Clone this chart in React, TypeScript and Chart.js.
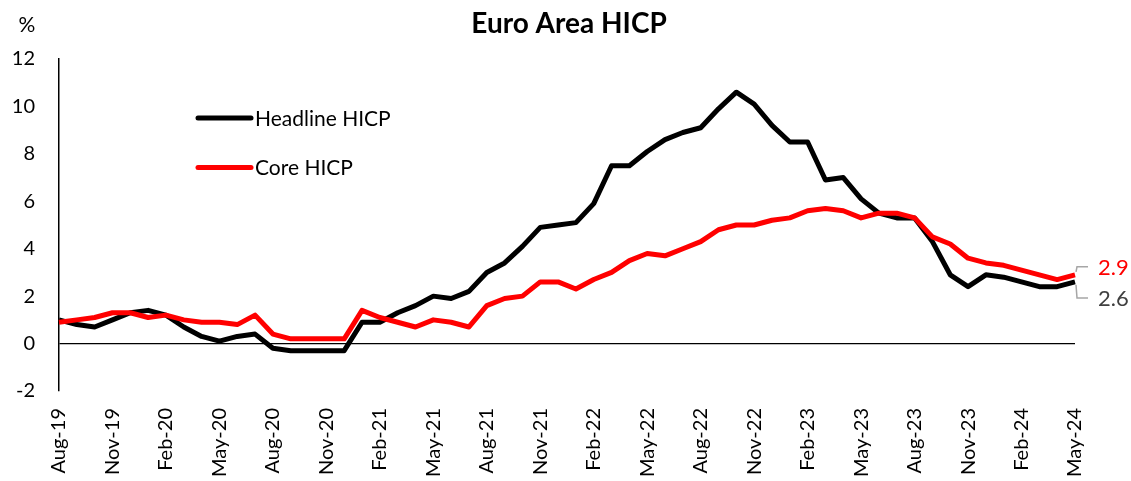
import React, { useEffect, useRef } from "react";
import { Chart, registerables } from "chart.js";

Chart.register(...registerables);

const chartTitle = "Euro Area HICP";
const unitLabel = "%";

const months = [
  "Aug-19", "Sep-19", "Oct-19", "Nov-19", "Dec-19",
  "Jan-20", "Feb-20", "Mar-20", "Apr-20", "May-20", "Jun-20", "Jul-20", "Aug-20", "Sep-20", "Oct-20", "Nov-20", "Dec-20",
  "Jan-21", "Feb-21", "Mar-21", "Apr-21", "May-21", "Jun-21", "Jul-21", "Aug-21", "Sep-21", "Oct-21", "Nov-21", "Dec-21",
  "Jan-22", "Feb-22", "Mar-22", "Apr-22", "May-22", "Jun-22", "Jul-22", "Aug-22", "Sep-22", "Oct-22", "Nov-22", "Dec-22",
  "Jan-23", "Feb-23", "Mar-23", "Apr-23", "May-23", "Jun-23", "Jul-23", "Aug-23", "Sep-23", "Oct-23", "Nov-23", "Dec-23",
  "Jan-24", "Feb-24", "Mar-24", "Apr-24", "May-24",
];

const headline = [
  1.0, 0.8, 0.7, 1.0, 1.3,
  1.4, 1.2, 0.7, 0.3, 0.1, 0.3, 0.4, -0.2, -0.3, -0.3, -0.3, -0.3,
  0.9, 0.9, 1.3, 1.6, 2.0, 1.9, 2.2, 3.0, 3.4, 4.1, 4.9, 5.0,
  5.1, 5.9, 7.5, 7.5, 8.1, 8.6, 8.9, 9.1, 9.9, 10.6, 10.1, 9.2,
  8.5, 8.5, 6.9, 7.0, 6.1, 5.5, 5.3, 5.3, 4.3, 2.9, 2.4, 2.9,
  2.8, 2.6, 2.4, 2.4, 2.6,
];

const core = [
  0.9, 1.0, 1.1, 1.3, 1.3,
  1.1, 1.2, 1.0, 0.9, 0.9, 0.8, 1.2, 0.4, 0.2, 0.2, 0.2, 0.2,
  1.4, 1.1, 0.9, 0.7, 1.0, 0.9, 0.7, 1.6, 1.9, 2.0, 2.6, 2.6,
  2.3, 2.7, 3.0, 3.5, 3.8, 3.7, 4.0, 4.3, 4.8, 5.0, 5.0, 5.2,
  5.3, 5.6, 5.7, 5.6, 5.3, 5.5, 5.5, 5.3, 4.5, 4.2, 3.6, 3.4,
  3.3, 3.1, 2.9, 2.7, 2.9,
];

const seriesNames = ["Headline HICP", "Core HICP"];
const seriesColors = ["#000000", "#FF0000"];
const endLabelColors = ["#404040", "#FF0000"];

const yMin = -2;
const yMax = 12;
const yStep = 2;

const FONT = "Lato";

const overlayPlugin = {
  id: "overlay",
  afterDatasetsDraw(chart: any) {
    const { ctx, chartArea } = chart;
    ctx.save();

    // title
    ctx.fillStyle = "#000";
    ctx.textAlign = "center";
    ctx.textBaseline = "middle";
    ctx.font = `bold 28px ${FONT}`;
    ctx.fillText(chartTitle, (chartArea.left + chartArea.right) / 2 + 2, chartArea.top - 35);

    // unit
    ctx.font = `21px ${FONT}`;
    ctx.fillText(unitLabel, chartArea.left - 32, chartArea.top - 34);

    // legend
    chart.data.datasets.forEach((ds: any, i: number) => {
      const y = chartArea.top + 59 + i * 49.5;
      const x0 = chartArea.left + 139;
      ctx.strokeStyle = ds.borderColor;
      ctx.lineWidth = 5;
      ctx.lineCap = "round";
      ctx.beginPath();
      ctx.moveTo(x0, y);
      ctx.lineTo(x0 + 53, y);
      ctx.stroke();
      ctx.fillStyle = "#000";
      ctx.textAlign = "left";
      ctx.textBaseline = "middle";
      ctx.font = `21px ${FONT}`;
      ctx.fillText(ds.label, x0 + 57, y + 1);
    });

    // end labels with callouts
    chart.data.datasets.forEach((ds: any, i: number) => {
      const meta = chart.getDatasetMeta(i);
      const last = meta.data.length - 1;
      const pt = meta.data[last];
      const val = ds.data[last];
      const up = i === 1;
      const ly = up ? pt.y - 8 : pt.y + 16;
      ctx.strokeStyle = "#A6A6A6";
      ctx.lineWidth = 1.5;
      ctx.lineCap = "butt";
      ctx.beginPath();
      ctx.moveTo(pt.x + 1, up ? pt.y - 3 : pt.y + 3);
      ctx.lineTo(pt.x + 2, ly);
      ctx.lineTo(pt.x + 13, ly);
      ctx.stroke();
      ctx.fillStyle = endLabelColors[i];
      ctx.textAlign = "left";
      ctx.textBaseline = "middle";
      ctx.font = `22px ${FONT}`;
      ctx.fillText(val.toFixed(1), pt.x + 23, ly + 1);
    });

    ctx.restore();
  },
};

export default function App() {
  const canvasRef = useRef<HTMLCanvasElement | null>(null);

  useEffect(() => {
    document.body.style.margin = "0";
    const canvas = canvasRef.current;
    if (!canvas) return;
    const chart = new Chart(canvas, {
      type: "line",
      data: {
        labels: months,
        datasets: [
          {
            label: seriesNames[0],
            data: headline,
            borderColor: seriesColors[0],
            backgroundColor: seriesColors[0],
            borderWidth: 5,
            pointRadius: 0,
            tension: 0,
            borderJoinStyle: "round",
            order: 1,
          },
          {
            label: seriesNames[1],
            data: core,
            borderColor: seriesColors[1],
            backgroundColor: seriesColors[1],
            borderWidth: 5,
            pointRadius: 0,
            tension: 0,
            borderJoinStyle: "round",
            order: 0,
          },
        ],
      },
      options: {
        responsive: false,
        animation: false,
        layout: { padding: { top: 59, right: 56, left: 0, bottom: 0 } },
        plugins: {
          legend: { display: false },
          title: { display: false },
          tooltip: { enabled: false },
        },
        scales: {
          x: {
            type: "category",
            offset: false,
            grid: { display: false, drawTicks: false },
            border: { display: false },
            ticks: {
              autoSkip: false,
              maxRotation: 90,
              minRotation: 90,
              padding: 17,
              color: "#000",
              font: { family: FONT, size: 20 },
              callback: (_v: any, i: number) => (i % 3 === 0 ? months[i] : ""),
            },
            afterFit: (scale: any) => {
              scale.height = 90;
            },
          },
          y: {
            min: yMin,
            max: yMax,
            grid: {
              drawTicks: false,
              color: (c: any) => (c.tick && c.tick.value === 0 ? "#000" : "rgba(0,0,0,0)"),
              lineWidth: 1.2,
            },
            border: { display: true, color: "#000", width: 1.5 },
            ticks: {
              stepSize: yStep,
              padding: 24,
              color: "#000",
              font: { family: FONT, size: 20 },
            },
            afterFit: (scale: any) => {
              scale.width = 59;
            },
          },
        },
      },
      plugins: [overlayPlugin],
    });
    return () => chart.destroy();
  }, []);

  return <canvas ref={canvasRef} width={1131} height={481} style={{ display: "block" }} />;
}
